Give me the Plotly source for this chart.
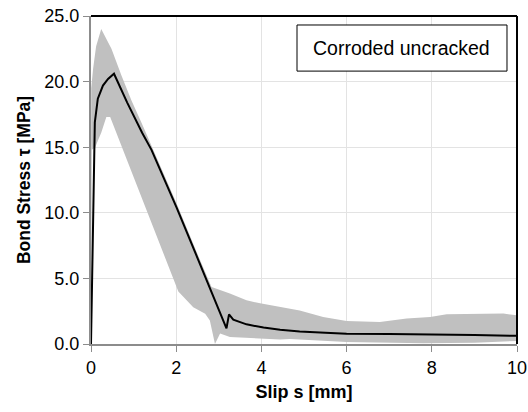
import plotly.graph_objects as go

# Mean bond stress–slip curve (slip in mm, stress in MPa)
slip_mean = [0.0, 0.02, 0.04, 0.05, 0.07, 0.09, 0.16, 0.28, 0.40, 0.54, 0.85, 1.20,
             1.42, 1.70, 2.01, 2.52, 2.85, 3.18, 3.24, 3.34, 3.65, 4.05, 4.44, 4.90,
             5.50, 6.00, 7.00, 7.80, 9.00, 10.0]
tau_mean = [0.0, 4.3, 9.0, 12.0, 16.0, 16.9, 18.7, 19.7, 20.2, 20.6, 18.4, 16.1,
            14.8, 12.7, 10.4, 6.4, 3.8, 1.2, 2.26, 1.86, 1.5, 1.25, 1.08, 0.95,
            0.85, 0.79, 0.76, 0.74, 0.68, 0.62]

# Scatter envelope: upper bound
slip_upper = [0.0, 0.005, 0.05, 0.12, 0.24, 0.48, 0.71, 0.95, 1.18, 1.42, 1.70,
              2.01, 2.52, 2.83, 3.26, 3.65, 4.00, 4.44, 4.67, 4.90, 5.45, 6.00,
              6.78, 7.41, 7.96, 8.35, 9.68, 10.0]
tau_upper = [0.0, 19.5, 21.0, 22.7, 24.0, 22.5, 20.5, 18.55, 16.9, 15.1, 13.0,
             10.7, 6.7, 4.35, 3.84, 3.33, 3.08, 2.82, 2.65, 2.55, 2.06, 1.75,
             1.68, 1.94, 2.06, 2.26, 2.32, 2.19]

# Scatter envelope: lower bound
slip_lower = [0.0, 0.02, 0.10, 0.16, 0.24, 0.36, 0.45, 1.74, 2.05, 2.40, 2.68,
              2.79, 2.91, 3.03, 3.26, 4.44, 4.67, 6.00, 7.80, 9.00, 10.0]
tau_lower = [0.0, 14.8, 15.0, 15.5, 16.1, 17.3, 17.3, 6.6, 4.0, 2.8, 2.3,
             1.8, 0.0, 0.8, 0.53, 0.35, 0.38, 0.15, 0.05, 0.1, 0.23]

x_ticks = [0, 2, 4, 6, 8, 10]
y_ticks = [0, 5, 10, 15, 20, 25]
label_text = "Corroded uncracked"

fig = go.Figure()

# Envelope drawn as a single closed polygon
band_x = slip_upper + slip_lower[::-1]
band_y = tau_upper + tau_lower[::-1]
fig.add_trace(go.Scatter(
    x=band_x, y=band_y, mode="lines", fill="toself",
    fillcolor="#c0c0c0", line=dict(width=0, color="#c0c0c0"),
    hoverinfo="skip", showlegend=False,
))

fig.add_trace(go.Scatter(
    x=slip_mean, y=tau_mean, mode="lines",
    line=dict(color="black", width=2), showlegend=False,
))

FAMILY = "Arial, Liberation Sans, sans-serif"
tick_font = dict(family=FAMILY, size=18, color="black")
xtitle_font = dict(family=FAMILY, size=18, color="black")
ytitle_font = dict(family=FAMILY, size=17.5, color="black")

fig.update_layout(
    width=528, height=412,
    margin=dict(l=91, r=11, t=16, b=68, autoexpand=False),
    paper_bgcolor="white", plot_bgcolor="white",
    font=tick_font,
    xaxis=dict(
        range=[0, 10], tickvals=x_ticks, ticktext=[str(v) for v in x_ticks],
        showgrid=True, gridcolor="#e3e3e3", gridwidth=1,
        showline=True, linecolor="#8c8c8c", linewidth=2,
        ticks="outside", ticklen=6, tickcolor="#8c8c8c",
        zeroline=False, tickfont=tick_font, automargin=False,
        title=dict(text="<b>Slip s [mm]</b>", font=xtitle_font, standoff=9),
    ),
    yaxis=dict(
        range=[0, 25], tickvals=y_ticks, ticktext=[f"{v:.1f}" for v in y_ticks],
        showgrid=True, gridcolor="#e3e3e3", gridwidth=1,
        showline=True, linecolor="#8c8c8c", linewidth=2,
        ticks="outside", ticklen=6, tickcolor="#8c8c8c",
        zeroline=False, tickfont=tick_font, automargin=False,
        title=dict(text="<b>Bond Stress τ [MPa]</b>", font=ytitle_font, standoff=9),
    ),
    shapes=[
        # top and right frame edges
        dict(type="line", xref="paper", yref="paper", x0=0, x1=1, y0=1, y1=1,
             line=dict(color="black", width=2)),
        dict(type="line", xref="paper", yref="paper", x0=1, x1=1, y0=0, y1=1,
             line=dict(color="black", width=2)),
        # label box
        dict(type="rect", xref="paper", yref="paper",
             x0=0.4836, x1=0.9765, y0=0.832, y1=0.9726,
             line=dict(color="black", width=1), fillcolor="white"),
    ],
    annotations=[
        dict(text=label_text, xref="paper", yref="paper", x=0.730, y=0.902,
             xanchor="center", yanchor="middle", showarrow=False,
             font=dict(family=FAMILY, size=19.5, color="black")),
    ],
)

fig.write_html("out.html")
